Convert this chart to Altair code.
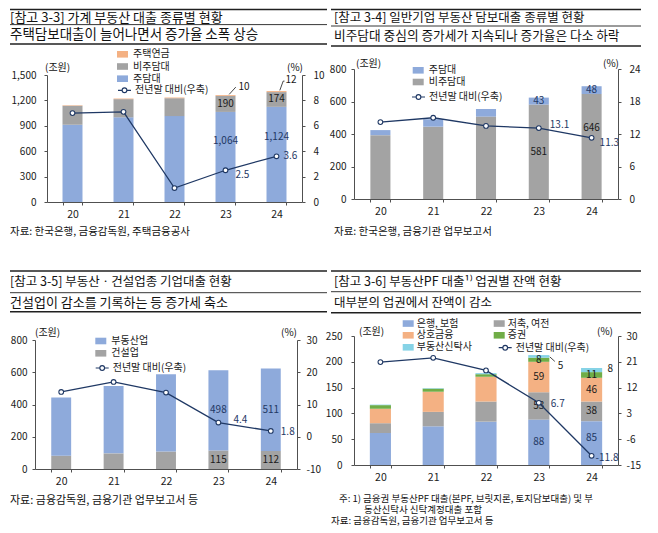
import altair as alt
import pandas as pd

FONT = "Noto Sans CJK KR"
NAVY = "#1f3864"
BLUE = "#8eaadb"
GRAY = "#a3a3a3"
ORANGE = "#f4b183"
GREEN = "#70ad47"
CYAN = "#86d3e6"
TXT = "#1a1a1a"
AXC = "#505050"
LINE_LABEL = "전년말 대비(우축)"

YEARS = ["20", "21", "22", "23", "24"]

# [참고 3-3] 가계 부동산 대출 (조원, %)
HH_MORTGAGE = [913, 1000, 1015, 1064, 1124]   # 주담대
HH_NONMORT = [225, 215, 211, 190, 174]        # 비주담대
HH_PENSION = [5, 7, 8, 10, 12]                # 주택연금
HH_RATE = [7.0, 7.1, 1.1, 2.5, 3.6]

# [참고 3-4] 일반기업 부동산 담보대출
CO_NONMORT = [393, 445, 507, 581, 646]        # 비주담대
CO_MORT = [31, 46, 47, 43, 48]                # 주담대
CO_RATE = [14.2, 15.0, 13.5, 13.1, 11.3]

# [참고 3-5] 부동산·건설업종 기업대출
RC_CONSTR = [82, 97, 109, 115, 112]           # 건설업
RC_REALTY = [361, 418, 479, 498, 511]         # 부동산업
RC_RATE = [13.9, 17.0, 13.7, 4.4, 1.8]

# [참고 3-6] 부동산PF 대출 업권별 잔액
PF_BANK = [62, 75, 84, 88, 85]                # 은행, 보험
PF_SAVINGS = [19, 28, 39, 53, 38]             # 저축, 여전
PF_MUTUAL = [28, 39, 48, 59, 46]              # 상호금융
PF_SEC = [7, 6, 5, 8, 11]                     # 증권
PF_TRUST = [1, 1, 2, 5, 8]                    # 부동산신탁사
PF_RATE = [20.9, 22.4, 18.0, 6.7, -11.8]

ONE = pd.DataFrame({"k": [0]})
BAR_SYM = "M-1,-0.6H1V0.6H-1Z"
LINE_SYM = "M-1,0H-0.36M0.36,0H1M0.36,0A0.36,0.36,0,1,1,-0.36,0A0.36,0.36,0,1,1,0.36,0"
HYPHEN_LABEL = "datum.value < 0 ? '-' + format(-datum.value, 'd') : format(datum.value, ',d')"


def stack_table(series):
    rows = []
    for i, yr in enumerate(YEARS):
        base = 0
        for name, vals, _ in series:
            rows.append({"year": yr, "s": name, "v": vals[i], "base": base, "top": base + vals[i]})
            base += vals[i]
    return pd.DataFrame(rows)


def panel(p):
    H, V = p["origin"]
    W, Ht = p["size"]
    series = p["series"]
    tab = stack_table(series)
    cmap = {n: c for n, _, c in series}

    xs_kw = dict(domain=YEARS, paddingInner=p["pad"], paddingOuter=p["pad"] / 2)
    if "xrange" in p:
        xs_kw["range"] = p["xrange"]
    xaxis = alt.Axis(orient="bottom", title=None, labelAngle=0, domainColor=AXC, tickColor=AXC,
                     tickBand="extent", tickSize=3, labelPadding=4, labelFontSize=10.5, labelColor=TXT)
    X = alt.X("year:N", scale=alt.Scale(**xs_kw), axis=xaxis)

    ys_kw = dict(domain=p["ydom"], nice=False, zero=False)
    rs_kw = dict(domain=p["rdom"], nice=False, zero=False)
    if "yrange" in p:
        ys_kw["range"] = p["yrange"]
        rs_kw["range"] = p["yrange"]
    laxis = alt.Axis(orient="left", title=None, values=p["yticks"], labelExpr=HYPHEN_LABEL, grid=False,
                     domainColor=AXC, tickColor=AXC, tickSize=3, labelPadding=p["lpad"][0],
                     labelColor=TXT, labelFontSize=10, offset=p.get("loff", 0))
    raxis = alt.Axis(orient="right", title=None, values=p["rticks"], labelExpr=HYPHEN_LABEL, grid=False,
                     domainColor=AXC, tickColor=AXC, tickSize=3, labelPadding=p["lpad"][1],
                     labelColor=TXT, labelFontSize=10)
    YB = alt.Y("top:Q", scale=alt.Scale(**ys_kw), axis=laxis)
    YR = alt.Y("r:Q", scale=alt.Scale(**rs_kw), axis=raxis)

    lx, ly, rp = p["leg"]
    leg = alt.Legend(title=None, orient="none", legendX=lx, legendY=ly, symbolType=BAR_SYM,
                     symbolSize=121, symbolStrokeWidth=0, labelFontSize=10, labelColor=TXT,
                     labelOffset=p.get("loffset", 5), rowPadding=rp, padding=0,
                     direction=p.get("dir", "vertical"),
                     columns=p.get("cols", 1), columnPadding=p.get("cpad", 20))
    bars = alt.Chart(tab).mark_bar().encode(
        x=X, y=YB, y2="base:Q",
        color=alt.Color("s:N", scale=alt.Scale(domain=p["legend"], range=[cmap[n] for n in p["legend"]]),
                        legend=leg))
    layers_b = [bars]

    ins = []
    for yr, s, frac, col in p["inside"]:
        r = tab[(tab.year == yr) & (tab.s == s)].iloc[0]
        ins.append({"year": yr, "top": float(r.base + frac * r.v), "t": f"{int(r.v):,}", "c": col})
    ins = pd.DataFrame(ins)
    for col in ins.c.unique():
        sub = ins[ins.c == col].reset_index(drop=True)
        layers_b.append(alt.Chart(sub).mark_text(fontSize=10, color=col, baseline="middle").encode(
            x=X, y=YB, text="t:N"))
    for yr, s, frac, dx, dy in p.get("outside", []):
        r = tab[(tab.year == yr) & (tab.s == s)].iloc[0]
        d = pd.DataFrame([{"year": yr, "top": float(r.base + frac * r.v), "t": f"{int(r.v):,}"}])
        layers_b.append(alt.Chart(d).mark_text(fontSize=10, color=TXT, align="left", baseline="middle",
                                               dx=dx, dy=dy).encode(x=X, y=YB, text="t:N"))
    for yr, s, frac, path in p.get("leaders", []):
        r = tab[(tab.year == yr) & (tab.s == s)].iloc[0]
        d = pd.DataFrame([{"year": yr, "top": float(r.base + frac * r.v)}])
        layers_b.append(alt.Chart(d).mark_point(shape=path, size=400, filled=False, color=TXT,
                                                strokeWidth=0.8, opacity=1).encode(x=X, y=YB))

    rdf = pd.DataFrame({"year": YEARS, "r": p["rate"], "lab": [LINE_LABEL] * 5,
                        "t": [f"{v:.1f}" for v in p["rate"]]})
    llx, lly = p["lleg"]
    lleg = alt.Legend(title=None, orient="none", legendX=llx, legendY=lly, symbolType=LINE_SYM,
                      symbolSize=169, symbolStrokeWidth=1.2, symbolFillColor="white",
                      labelFontSize=10, labelColor=TXT, labelOffset=3, padding=0)
    line = alt.Chart(rdf).mark_line(strokeWidth=1.3).encode(
        x=X, y=YR,
        stroke=alt.Stroke("lab:N", scale=alt.Scale(domain=[LINE_LABEL], range=[NAVY]), legend=lleg))
    pts = alt.Chart(rdf).mark_point(shape="circle", filled=True, fill="white", stroke=NAVY,
                                    strokeWidth=1.1, size=22, opacity=1).encode(x=X, y=YR)
    layers_r = [line, pts]
    for yr, dx, dy in p["rlabels"]:
        sub = rdf[rdf.year == yr].reset_index(drop=True)
        layers_r.append(alt.Chart(sub).mark_text(align="left", baseline="middle", dx=dx, dy=dy,
                                                 fontSize=10, color=NAVY).encode(x=X, y=YR, text="t:N"))

    decos = []
    for d in p["deco"]:
        if d[0] == "r":
            _, x1, x2, y, w = d
            decos.append(alt.Chart(ONE).mark_rule(color="#202020", strokeWidth=w).encode(
                x=alt.value(x1 - H), x2=alt.value(x2 - H), y=alt.value(y - V)))
        else:
            _, s, x, y, size = d[:5]
            align = d[5] if len(d) > 5 else "left"
            decos.append(alt.Chart(ONE).mark_text(text=s, align=align, baseline="middle", font=FONT,
                                                  fontSize=size, color="#111111").encode(
                x=alt.value(x - H), y=alt.value(y - V)))

    return alt.layer(alt.layer(*layers_b), alt.layer(*layers_r), *decos).resolve_scale(
        y="independent").properties(width=W, height=Ht)


P1 = dict(
    origin=(33, 68), size=(267, 133), xrange=[12, 267], yrange=[133, 6], loff=-12, pad=0.608,
    series=[("주담대", HH_MORTGAGE, BLUE), ("비주담대", HH_NONMORT, GRAY), ("주택연금", HH_PENSION, ORANGE)],
    legend=["주택연금", "비주담대", "주담대"],
    ydom=[0, 1500], yticks=[0, 300, 600, 900, 1200, 1500], rdom=[0, 10], rticks=[0, 2, 4, 6, 8, 10],
    rate=HH_RATE, lpad=(8, 8),
    inside=[("23", "비주담대", 0.5, TXT), ("24", "비주담대", 0.5, TXT),
            ("23", "주담대", 0.68, NAVY), ("24", "주담대", 0.68, NAVY)],
    outside=[("23", "주택연금", 1.0, 13, -8), ("24", "주택연금", 1.0, 9, -11)],
    leaders=[("23", "주택연금", 1.0, "M0.37,-0.06L1.03,-0.79"),
             ("24", "주택연금", 1.0, "M0.33,-0.07L0.67,-1L0.8,-1")],
    rlabels=[("23", 10, 4.3), ("24", 7, 0)],
    leg=(82, -20.2, 1.2), lleg=(82, 13.8),
    deco=[("r", 8, 325, 8.5, 1.5), ("r", 8, 325, 23.6, 0.9), ("r", 8, 325, 42.9, 1.5),
          ("t", "[참고 3-3] 가계 부동산 대출 종류별 현황", 8, 16.5, 13),
          ("t", "주택담보대출이 늘어나면서 증가율 소폭 상승", 8, 33.5, 13.5),
          ("t", "(조원)", 43, 66.7, 10), ("t", "(%)", 301, 66.7, 10, "right"),
          ("t", "자료: 한국은행, 금융감독원, 주택금융공사", 8, 231, 10.5)],
)

P2 = dict(
    origin=(352, 68), size=(264, 130), pad=0.62,
    series=[("비주담대", CO_NONMORT, GRAY), ("주담대", CO_MORT, BLUE)],
    legend=["주담대", "비주담대"],
    ydom=[0, 800], yticks=[0, 200, 400, 600, 800], rdom=[0, 24], rticks=[0, 6, 12, 18, 24],
    rate=CO_RATE, lpad=(5, 8),
    inside=[("23", "주담대", 0.5, NAVY), ("24", "주담대", 0.5, NAVY),
            ("23", "비주담대", 0.5, TXT), ("24", "비주담대", 0.68, TXT)],
    rlabels=[("23", 11, -3), ("24", 8, 5.5)],
    leg=(58.7, -4.2, 0.7), lleg=(57, 20.5),
    deco=[("r", 329, 639, 8.5, 1.5), ("r", 329, 639, 25, 0.9), ("r", 329, 639, 45, 1.5),
          ("t", "[참고 3-4] 일반기업 부동산 담보대출 종류별 현황", 332, 16.5, 12.5),
          ("t", "비주담대 중심의 증가세가 지속되나 증가율은 다소 하락", 332, 35, 12.7),
          ("t", "(조원)", 354, 63, 10), ("t", "(%)", 617, 63, 10, "right"),
          ("t", "자료: 한국은행, 금융기관 업무보고서", 332, 231, 10.5)],
)

P3 = dict(
    origin=(33, 335), size=(262, 133), yrange=[133, 4], pad=0.62,
    series=[("건설업", RC_CONSTR, GRAY), ("부동산업", RC_REALTY, BLUE)],
    legend=["부동산업", "건설업"],
    ydom=[0, 800], yticks=[0, 200, 400, 600, 800], rdom=[-10, 30], rticks=[-10, 0, 10, 20, 30],
    rate=RC_RATE, lpad=(5, 6),
    inside=[("23", "부동산업", 0.5, NAVY), ("24", "부동산업", 0.5, NAVY),
            ("23", "건설업", 0.5, TXT), ("24", "건설업", 0.5, TXT)],
    rlabels=[("23", 15, -2.5), ("24", 10, 1.5)],
    leg=(60.3, -0.5, 1.3), lleg=(59.7, 24.5),
    deco=[("r", 8, 325, 270, 1.5), ("r", 8, 325, 291.7, 0.9), ("r", 8, 325, 310.7, 1.5),
          ("t", "[참고 3-5] 부동산ㆍ건설업종 기업대출 현황", 8, 280.7, 12.5),
          ("t", "건설업이 감소를 기록하는 등 증가세 축소", 8, 301.7, 13),
          ("t", "(조원)", 33, 332, 10), ("t", "(%)", 295, 332, 10, "right"),
          ("t", "자료: 금융감독원, 금융기관 업무보고서 등", 8, 500, 11)],
)

P4 = dict(
    origin=(352, 335), size=(264, 129), pad=0.6,
    series=[("은행, 보험", PF_BANK, BLUE), ("저축, 여전", PF_SAVINGS, GRAY), ("상호금융", PF_MUTUAL, ORANGE),
            ("증권", PF_SEC, GREEN), ("부동산신탁사", PF_TRUST, CYAN)],
    legend=["은행, 보험", "저축, 여전", "상호금융", "증권", "부동산신탁사"],
    cols=2, cpad=21, loffset=3, dir="horizontal",
    ydom=[0, 250], yticks=[0, 50, 100, 150, 200, 250], rdom=[-15, 30], rticks=[-15, -6, 3, 12, 21, 30],
    rate=PF_RATE, lpad=(9, 5),
    inside=[("23", "증권", 0.5, TXT), ("23", "상호금융", 0.5, TXT), ("23", "저축, 여전", 0.5, TXT),
            ("23", "은행, 보험", 0.5, NAVY), ("24", "증권", 0.5, TXT), ("24", "상호금융", 0.5, TXT),
            ("24", "저축, 여전", 0.5, TXT), ("24", "은행, 보험", 0.62, NAVY)],
    outside=[("23", "부동산신탁사", 0.5, 19, 10), ("24", "부동산신탁사", 0.5, 16, -1)],
    leaders=[("23", "부동산신탁사", 0.5, "M1.1,0.05L1.6,0.5")],
    rlabels=[("23", 12, 1.5), ("24", 4, 2)],
    leg=(48.7, -18.2, 1.0), lleg=(143.7, 4.2),
    deco=[("r", 329, 639, 270, 1.5), ("r", 329, 639, 290.7, 0.9), ("r", 329, 639, 311.7, 1.5),
          ("t", "[참고 3-6] 부동산PF 대출¹⁾ 업권별 잔액 현황", 332, 280.7, 12.5),
          ("t", "대부분의 업권에서 잔액이 감소", 332, 301.7, 12.5),
          ("t", "(조원)", 357, 330.7, 10), ("t", "(%)", 611, 330.7, 10, "right"),
          ("t", "주: 1) 금융권 부동산PF 대출(본PF, 브릿지론, 토지담보대출) 및 부", 337, 497.5, 9.5),
          ("t", "동산신탁사 신탁계정대출 포함", 362, 508.5, 9.5),
          ("t", "자료: 금융감독원, 금융기관 업무보고서 등", 329, 519.5, 9.5)],
)

chart = alt.concat(
    panel(P1), panel(P2), panel(P3), panel(P4),
    columns=2, spacing={"row": 134, "column": 52}, bounds="flush",
).resolve_scale(color="independent", stroke="independent").properties(
    padding=0, background="white").configure(font=FONT).configure_view(
    stroke="transparent").configure_axis(labelFont=FONT).configure_legend(labelFont=FONT)

chart.save("out.html", embed_options={"renderer": "svg", "actions": False})
